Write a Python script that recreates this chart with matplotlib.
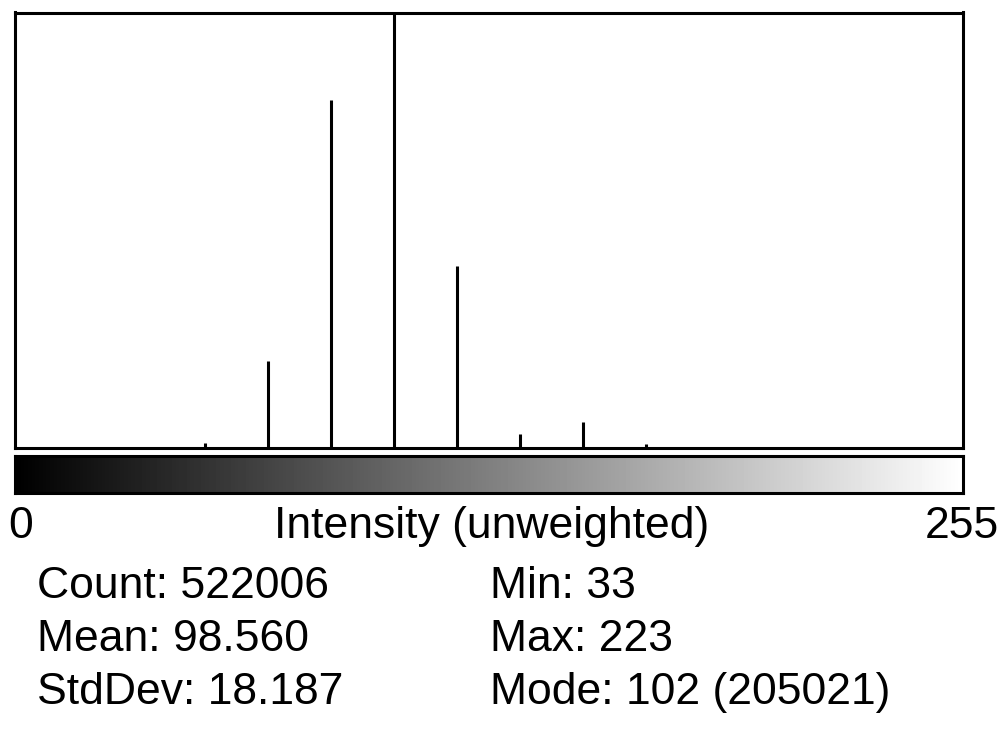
import numpy as np
import matplotlib
matplotlib.use("Agg")
import matplotlib.pyplot as plt

# Histogram data (intensity value -> pixel count)
values = [33, 51, 68, 85, 102, 119, 136, 153, 170, 187, 223]
counts = [20, 2300, 40800, 164000, 205021, 85900, 6600, 12200, 1800, 300, 10]

stats_left = ["Count: 522006", "Mean: 98.560", "StdDev: 18.187"]
stats_right = ["Min: 33", "Max: 223", "Mode: 102 (205021)"]
axis_title = "Intensity (unweighted)"
x_min_label, x_max_label = "0", "255"

plt.rcParams['font.family'] = ['Liberation Sans', 'DejaVu Sans']

W, H = 1002, 733
fig = plt.figure(figsize=(W / 100, H / 100), dpi=100)

def fx(px):
    return px / W

def fy(py):
    return 1 - py / H

# Histogram axes
left, right, top, bottom = 14.5, 963, 12.5, 448
ax = fig.add_axes([fx(left), fy(bottom), fx(right) - fx(left), fy(top) - fy(bottom)])
ax.vlines(np.array(values) + 0.5, 0, counts, colors='black', linewidth=2.2)
ax.set_xlim(0, 256)
ax.set_ylim(0, max(counts))
ax.set_xticks([])
ax.set_yticks([])
for s in ax.spines.values():
    s.set_linewidth(2.2)
    s.set_color('black')

# Gradient bar
gtop, gbot = 456, 493
gax = fig.add_axes([fx(left), fy(gbot), fx(right) - fx(left), fy(gtop) - fy(gbot)])
gax.imshow(np.arange(256).reshape(1, 256), cmap='gray', vmin=0, vmax=255,
           extent=[0, 256, 0, 1], aspect='auto', interpolation='bilinear')
gax.set_xticks([])
gax.set_yticks([])
for s in gax.spines.values():
    s.set_linewidth(2.2)
    s.set_color('black')

fs = 32
fig.text(fx(8), fy(538), x_min_label, fontsize=fs, ha='left', va='baseline')
fig.text(fx(492), fy(538), axis_title, fontsize=fs, ha='center', va='baseline')
fig.text(fx(999), fy(538), x_max_label, fontsize=fs, ha='right', va='baseline')

baselines = [598, 651, 704]
for t, b in zip(stats_left, baselines):
    fig.text(fx(37), fy(b), t, fontsize=fs, ha='left', va='baseline')
for t, b in zip(stats_right, baselines):
    fig.text(fx(490), fy(b), t, fontsize=fs, ha='left', va='baseline')

fig.savefig("out.png", dpi=100, facecolor='white')
